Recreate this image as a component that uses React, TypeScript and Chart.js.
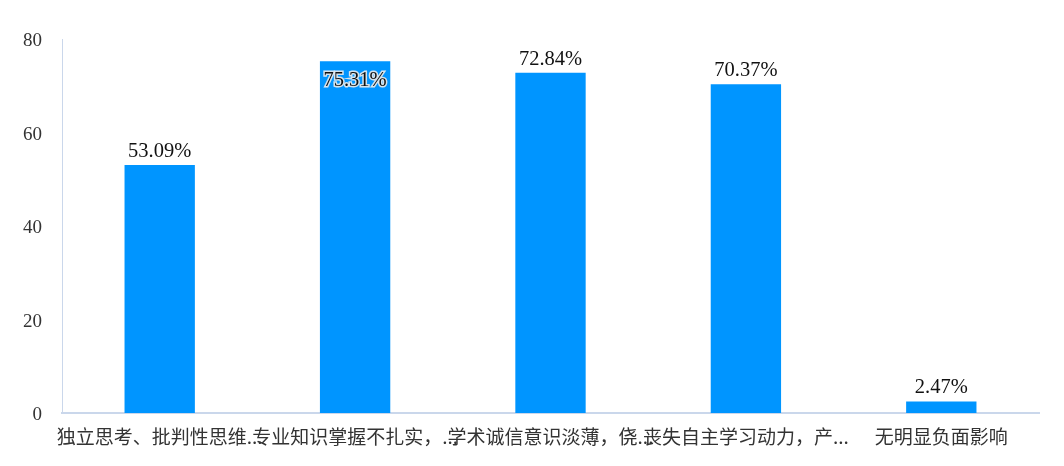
import { useEffect, useRef } from "react"
import { Chart, registerables } from "chart.js"

Chart.register(...registerables)

const categories = [
  "独立思考、批判性思维...",
  "专业知识掌握不扎实，...",
  "学术诚信意识淡薄，侥...",
  "丧失自主学习动力，产...",
  "无明显负面影响",
]
const percentages = [53.09, 75.31, 72.84, 70.37, 2.47]
const yTicks = [0, 20, 40, 60, 80]

const BAR_COLOR = "#0095FF"
const AXIS_COLOR = "#CAD7EB"

// draws the "xx.xx%" labels over the bars
const valueLabels = {
  id: "valueLabels",
  afterDatasetsDraw(chart: Chart) {
    const ctx = chart.ctx
    const meta = chart.getDatasetMeta(0)
    ctx.save()
    ctx.font = '20.5px "Liberation Serif", serif'
    ctx.textAlign = "center"
    meta.data.forEach((bar: any, i: number) => {
      const v = percentages[i]
      const text = v.toFixed(2) + "%"
      if (v > 74) {
        // too close to the top: drawn inside the bar
        ctx.textBaseline = "middle"
        ctx.lineWidth = 3
        ctx.strokeStyle = "rgba(235,235,235,0.9)"
        ctx.strokeText(text, bar.x, bar.y + 19)
        ctx.fillStyle = "#111"
        ctx.fillText(text, bar.x, bar.y + 19)
      } else {
        ctx.textBaseline = "alphabetic"
        ctx.fillStyle = "#111"
        ctx.fillText(text, bar.x, bar.y - 8)
      }
    })
    ctx.restore()
  },
}

export default function App() {
  const chartRef = useRef<HTMLCanvasElement>(null)
  const chartInstance = useRef<Chart | null>(null)

  useEffect(() => {
    if (!chartRef.current) return
    if (chartInstance.current) chartInstance.current.destroy()

    chartInstance.current = new Chart(chartRef.current, {
      type: "bar",
      data: {
        labels: categories,
        datasets: [
          {
            data: percentages,
            backgroundColor: BAR_COLOR,
            borderWidth: 0,
            barPercentage: 0.36,
            categoryPercentage: 1,
          },
        ],
      },
      options: {
        responsive: true,
        maintainAspectRatio: false,
        animation: false,
        layout: { padding: { top: 31, right: 17, bottom: 0, left: 0 } },
        plugins: {
          legend: { display: false },
          tooltip: { enabled: false },
        },
        scales: {
          x: {
            grid: { display: false, drawTicks: false },
            border: { color: AXIS_COLOR, width: 2 },
            ticks: {
              autoSkip: false,
              maxRotation: 0,
              minRotation: 0,
              padding: 12,
              color: "#333",
              font: { family: '"Noto Sans CJK SC", sans-serif', size: 19 },
            },
            afterFit: (s: any) => {
              s.height = 45
            },
          },
          y: {
            min: 0,
            max: 80,
            afterBuildTicks: (s: any) => {
              s.ticks = yTicks.map((v) => ({ value: v }))
            },
            grid: { display: false, drawTicks: false },
            border: { color: AXIS_COLOR, width: 1 },
            ticks: {
              padding: 20,
              labelOffset: 2,
              color: "#333",
              font: { family: '"Liberation Serif", serif', size: 19 },
            },
            afterFit: (s: any) => {
              s.width = 54
            },
          },
        },
      },
      plugins: [valueLabels],
    })

    return () => {
      if (chartInstance.current) {
        chartInstance.current.destroy()
        chartInstance.current = null
      }
    }
  }, [])

  return (
    <div style={{ width: 1048, height: 450, position: "relative" }}>
      <canvas ref={chartRef} />
    </div>
  )
}
